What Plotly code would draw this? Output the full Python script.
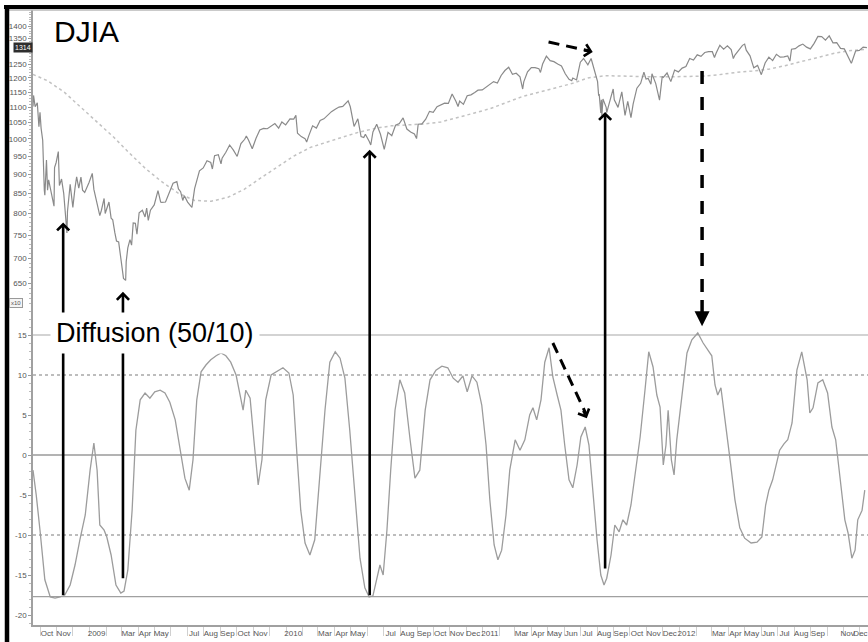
import math
import plotly.graph_objects as go

# ---------------- data (DJIA shown /10, as in the "x10" scale) ----------------
djia_dates = [
 "2008-09-18","2008-09-19","2008-09-22","2008-09-26","2008-09-29","2008-10-01","2008-10-03","2008-10-06",
 "2008-10-09","2008-10-10","2008-10-13","2008-10-15","2008-10-17","2008-10-22","2008-10-27","2008-10-28",
 "2008-10-31","2008-11-04","2008-11-06","2008-11-10","2008-11-14","2008-11-20","2008-11-21","2008-11-26",
 "2008-12-01","2008-12-05","2008-12-08","2008-12-12","2008-12-16","2008-12-19","2008-12-23","2008-12-31",
 "2009-01-06","2009-01-09","2009-01-15","2009-01-20","2009-01-23","2009-01-28","2009-01-30","2009-02-06",
 "2009-02-10","2009-02-13","2009-02-17","2009-02-20","2009-02-24","2009-02-27","2009-03-05","2009-03-09",
 "2009-03-10","2009-03-13","2009-03-17","2009-03-20","2009-03-23","2009-03-27","2009-03-30","2009-04-03",
 "2009-04-09","2009-04-14","2009-04-17","2009-04-20","2009-04-24","2009-05-01","2009-05-08","2009-05-13",
 "2009-05-15","2009-05-22","2009-05-29","2009-06-05","2009-06-12","2009-06-15","2009-06-19","2009-06-23",
 "2009-06-26","2009-07-02","2009-07-08","2009-07-10","2009-07-15","2009-07-17","2009-07-24","2009-07-31",
 "2009-08-07","2009-08-14","2009-08-17","2009-08-21","2009-08-28","2009-09-02","2009-09-04","2009-09-11",
 "2009-09-18","2009-09-25","2009-10-02","2009-10-09","2009-10-16","2009-10-19","2009-10-23","2009-10-30",
 "2009-11-06","2009-11-13","2009-11-20","2009-11-27","2009-12-04","2009-12-11","2009-12-18","2009-12-24",
 "2009-12-31","2010-01-08","2010-01-15","2010-01-19","2010-01-22","2010-01-29","2010-02-05","2010-02-08",
 "2010-02-12","2010-02-19","2010-02-26","2010-03-05","2010-03-12","2010-03-19","2010-03-26","2010-04-02",
 "2010-04-09","2010-04-16","2010-04-26","2010-04-30","2010-05-06","2010-05-07","2010-05-14","2010-05-20",
 "2010-05-25","2010-05-28","2010-06-04","2010-06-07","2010-06-11","2010-06-18","2010-06-25","2010-07-02",
 "2010-07-09","2010-07-16","2010-07-23","2010-07-30","2010-08-06","2010-08-13","2010-08-20","2010-08-27",
 "2010-08-31","2010-09-03","2010-09-10","2010-09-17","2010-09-24","2010-10-01","2010-10-08","2010-10-15",
 "2010-10-22","2010-10-29","2010-11-05","2010-11-12","2010-11-16","2010-11-19","2010-11-26","2010-12-03",
 "2010-12-10","2010-12-17","2010-12-23","2010-12-31","2011-01-07","2011-01-14","2011-01-21","2011-01-28",
 "2011-02-04","2011-02-11","2011-02-18","2011-02-25","2011-03-04","2011-03-11","2011-03-16","2011-03-18",
 "2011-03-25","2011-04-01","2011-04-08","2011-04-15","2011-04-18","2011-04-22","2011-04-29","2011-05-06",
 "2011-05-13","2011-05-20","2011-05-27","2011-06-03","2011-06-10","2011-06-15","2011-06-17","2011-06-24",
 "2011-07-01","2011-07-07","2011-07-15","2011-07-21","2011-07-29","2011-08-02","2011-08-04","2011-08-05",
 "2011-08-08","2011-08-09","2011-08-10","2011-08-12","2011-08-18","2011-08-19","2011-08-26","2011-08-31",
 "2011-09-02","2011-09-09","2011-09-16","2011-09-22","2011-09-27","2011-09-30","2011-10-03","2011-10-07",
 "2011-10-14","2011-10-21","2011-10-27","2011-10-31","2011-11-04","2011-11-09","2011-11-11","2011-11-18",
 "2011-11-25","2011-11-30","2011-12-02","2011-12-09","2011-12-16","2011-12-23","2011-12-30","2012-01-06",
 "2012-01-13","2012-01-20","2012-01-27","2012-02-03","2012-02-10","2012-02-17","2012-02-24","2012-03-02",
 "2012-03-06","2012-03-09","2012-03-16","2012-03-23","2012-03-30","2012-04-06","2012-04-10","2012-04-13",
 "2012-04-20","2012-04-27","2012-05-01","2012-05-04","2012-05-11","2012-05-18","2012-05-25","2012-06-01",
 "2012-06-08","2012-06-15","2012-06-22","2012-06-29","2012-07-06","2012-07-13","2012-07-20","2012-07-24",
 "2012-07-27","2012-08-03","2012-08-10","2012-08-17","2012-08-24","2012-08-31","2012-09-07","2012-09-14",
 "2012-09-21","2012-09-28","2012-10-05","2012-10-12","2012-10-19","2012-10-26","2012-11-02","2012-11-09",
 "2012-11-15","2012-11-16","2012-11-23","2012-11-30","2012-12-07","2012-12-14"]
djia_vals = [
 1102,1139,1101,1114,1037,1083,1033,996, 858,845,939,858,885,852,818,918,
 932,963,870,887,850,755,805,873, 815,864,893,863,892,858,852,878,
 902,860,821,795,808,837,800,828, 789,785,755,737,735,706,659,655,
 693,722,740,728,778,777,752,802, 808,792,813,784,808,821,857,828,
 827,828,850,876,880,861,854,832, 844,828,818,815,862,874,909,917,
 937,932,914,951,954,928,944,961, 982,967,949,986,999,1009,997,971,
 1002,1027,1032,1031,1039,1047,1033,1052, 1043,1062,1061,1073,1017,1007,1001,991,
 1010,1040,1033,1057,1062,1074,1085,1093, 1100,1102,1121,1101,1052,1038,1062,1007,
 1004,1014,993,982,1021,1045,1014,969, 1020,1010,1042,1047,1065,1030,1021,1015,
 1001,1045,1046,1061,1086,1083,1101,1106, 1113,1112,1144,1119,1102,1120,1109,1138,
 1141,1149,1157,1158,1167,1179,1187,1182, 1209,1227,1239,1213,1217,1204,1161,1186,
 1222,1238,1238,1234,1220,1251,1281,1264, 1260,1251,1244,1215,1195,1190,1200,1193,
 1258,1272,1248,1272,1214,1187,1138,1144, 1081,1124,1072,1127,1099,1082,1128,1161,
 1124,1099,1151,1073,1119,1091,1066,1110, 1164,1181,1221,1196,1198,1178,1215,1180,
 1123,1205,1202,1218,1187,1229,1222,1236, 1242,1272,1266,1286,1280,1295,1298,1298,
 1276,1292,1323,1308,1321,1306,1272,1285, 1303,1323,1328,1304,1282,1237,1246,1212,
 1255,1277,1264,1288,1277,1278,1282,1262, 1308,1310,1321,1328,1316,1309,1331,1359,
 1358,1344,1361,1333,1334,1311,1309,1282, 1254,1259,1301,1303,1316,1314]

ma_dates = [
 "2008-09-18","2008-10-15","2008-11-15","2008-12-15","2009-01-15","2009-02-15","2009-03-15","2009-04-15",
 "2009-05-15","2009-06-15","2009-07-15","2009-08-15","2009-09-15","2009-10-15","2009-11-15","2009-12-15",
 "2010-01-15","2010-02-15","2010-03-15","2010-04-15","2010-05-15","2010-06-15","2010-07-15","2010-08-15",
 "2010-09-15","2010-10-15","2010-11-15","2010-12-15","2011-01-15","2011-02-15","2011-03-15","2011-04-15",
 "2011-05-15","2011-06-15","2011-07-15","2011-08-15","2011-09-15","2011-10-15","2011-11-15","2011-12-15",
 "2012-01-15","2012-02-15","2012-03-15","2012-04-15","2012-05-15","2012-06-15","2012-07-15","2012-08-15",
 "2012-09-15","2012-10-15","2012-11-15","2012-12-14"]
ma_vals = [
 1213,1190,1150,1100,1050,1005,960,915, 880,850,832,830,840,860,890,920,
 950,975,990,1005,1020,1032,1040,1043, 1046,1052,1065,1080,1095,1115,1135,1150,
 1165,1180,1200,1208,1207,1205,1204,1204, 1205,1207,1212,1220,1225,1232,1245,1260,
 1275,1292,1303,1308]

diff_dates = [
 "2008-09-18","2008-09-24","2008-10-01","2008-10-10","2008-10-20","2008-10-29","2008-11-07","2008-11-16",
 "2008-11-26","2008-12-05","2008-12-14","2008-12-24","2009-01-02","2009-01-09","2009-01-15","2009-01-20",
 "2009-01-28","2009-02-02","2009-02-10","2009-02-19","2009-02-28","2009-03-06","2009-03-13","2009-03-21",
 "2009-03-28","2009-04-05","2009-04-14","2009-04-23","2009-05-02","2009-05-12","2009-05-21","2009-05-30",
 "2009-06-09","2009-06-18","2009-06-27","2009-07-05","2009-07-12","2009-07-19","2009-07-27","2009-08-05",
 "2009-08-14","2009-08-24","2009-09-02","2009-09-11","2009-09-20","2009-09-30","2009-10-07","2009-10-13",
 "2009-10-18","2009-10-26","2009-11-02","2009-11-10","2009-11-17","2009-11-24","2009-12-04","2009-12-15",
 "2009-12-26","2010-01-06","2010-01-14","2010-01-21","2010-01-28","2010-02-05","2010-02-14","2010-02-23",
 "2010-03-05","2010-03-14","2010-03-23","2010-04-02","2010-04-11","2010-04-20","2010-04-29","2010-05-09",
 "2010-05-18","2010-05-27","2010-06-04","2010-06-11","2010-06-18","2010-06-24","2010-06-30","2010-07-07",
 "2010-07-14","2010-07-22","2010-07-31","2010-08-09","2010-08-19","2010-08-28","2010-09-06","2010-09-16",
 "2010-09-25","2010-10-06","2010-10-17","2010-10-28","2010-11-07","2010-11-16","2010-11-25","2010-12-03",
 "2010-12-12","2010-12-21","2010-12-30","2011-01-07","2011-01-14","2011-01-22","2011-01-29","2011-02-05",
 "2011-02-13","2011-02-20","2011-03-02","2011-03-11","2011-03-20","2011-03-29","2011-04-04","2011-04-11",
 "2011-04-19","2011-04-26","2011-05-04","2011-05-11","2011-05-19","2011-05-26","2011-06-02","2011-06-10",
 "2011-06-17","2011-06-25","2011-07-02","2011-07-10","2011-07-17","2011-07-24","2011-08-01","2011-08-08",
 "2011-08-14","2011-08-19","2011-08-27","2011-09-03","2011-09-11","2011-09-18","2011-09-25","2011-10-03",
 "2011-10-10","2011-10-20","2011-10-29","2011-11-05","2011-11-13","2011-11-20","2011-11-26","2011-12-02",
 "2011-12-07","2011-12-11","2011-12-17","2011-12-22","2011-12-27","2012-01-06","2012-01-15","2012-01-24",
 "2012-02-04","2012-02-14","2012-02-23","2012-03-01","2012-03-07","2012-03-12","2012-03-18","2012-03-25",
 "2012-04-04","2012-04-13","2012-04-22","2012-05-01","2012-05-13","2012-05-24","2012-06-02","2012-06-09",
 "2012-06-15","2012-06-22","2012-06-30","2012-07-05","2012-07-13","2012-07-20","2012-07-28","2012-08-06",
 "2012-08-15","2012-08-25","2012-08-30","2012-09-05","2012-09-14","2012-09-23","2012-10-02","2012-10-10",
 "2012-10-17","2012-10-25","2012-11-03","2012-11-09","2012-11-16","2012-11-22","2012-11-27","2012-12-05",
 "2012-12-10"]
diff_vals = [
 -1.9,-5.0,-9.4,-15.6,-17.75,-17.9,-17.75,-17.5, -16.25,-13.75,-10.6,-7.5,-1.9,1.5,-1.9,-8.75,
 -9.4,-10.25,-12.5,-16.25,-17.25,-17.0,-14.4,-6.9, 3.1,6.9,7.75,7.1,7.9,8.1,7.75,6.6,
 4.4,0.6,-2.9,-4.4,-0.6,6.9,10.4,11.25, 11.9,12.4,12.75,12.4,11.6,10.0,7.5,5.6,
 8.1,7.1,1.9,-3.75,-0.6,6.9,10.0,10.4, 10.9,10.25,7.5,0.0,-6.9,-11.0,-12.5,-10.6,
 -1.9,5.6,11.6,12.9,12.1,9.6,3.1,-5.6, -12.9,-16.6,-17.75,-17.6,-15.6,-13.75,-15.0,-9.4,
 -1.9,5.6,9.4,7.75,1.9,-2.9,-1.9,5.6, 9.4,10.6,11.1,10.9,9.6,9.1,9.9,7.9,
 9.9,9.1,6.25,1.25,-5.6,-11.25,-13.1,-11.9, -7.5,-1.9,1.9,0.6,1.9,5.0,5.9,4.4,
 6.9,11.6,13.4,9.75,7.5,5.6,1.25,-3.1, -4.1,-1.25,2.25,3.5,1.25,-4.4,-10.6,-15.0,
 -16.25,-15.4,-12.5,-8.75,-9.6,-8.1,-8.75,-6.25, -2.5,2.25,8.1,12.9,11.0,7.5,6.0,-1.25,
 1.25,5.6,-0.6,-2.5,1.9,7.5,12.75,14.4, 15.25,14.0,13.1,12.4,8.75,7.5,8.4,4.4,
 -0.6,-5.6,-9.1,-10.4,-11.0,-10.9,-10.25,-6.25, -4.4,-3.1,-0.9,0.6,1.4,1.9,4.0,10.6,
 12.9,9.4,5.25,5.9,9.0,9.4,7.75,3.5, 1.9,-3.1,-8.1,-9.75,-12.9,-11.9,-8.1,-6.9,
 -4.4]

# axis tick labels
x_tick_dates = [
 "2008-10-14","2008-11-14","2009-01-14","2009-03-14","2009-04-14","2009-05-14","2009-07-14","2009-08-14",
 "2009-09-14","2009-10-14","2009-11-14","2010-01-14","2010-03-14","2010-04-14","2010-05-14","2010-07-14",
 "2010-08-14","2010-09-14","2010-10-14","2010-11-14","2010-12-14","2011-01-14","2011-03-14","2011-04-14",
 "2011-05-14","2011-06-14","2011-07-14","2011-08-14","2011-09-14","2011-10-14","2011-11-14","2011-12-14",
 "2012-01-14","2012-03-14","2012-04-14","2012-05-14","2012-06-14","2012-07-14","2012-08-14","2012-09-14",
 "2012-11-08","2012-12-02"]
x_tick_text = [
 "Oct","Nov","2009","Mar","Apr","May","Jul","Aug","Sep","Oct","Nov","2010","Mar","Apr","May","Jul",
 "Aug","Sep","Oct","Nov","Dec","2011","Mar","Apr","May","Jun","Jul","Aug","Sep","Oct","Nov","Dec",
 "2012","Mar","Apr","May","Jun","Jul","Aug","Sep","Nov","Dec"]
price_ticks = list(range(650, 1401, 50))
price_tick_text = ["" if v == 1300 else str(v) for v in price_ticks]   # 1300 sits under the value tag
price_minor = list(range(620, 1470, 10))
diff_ticks = [-20, -15, -10, -5, 0, 5, 10, 15]
ref_levels = [15, 10, 0, -10, -17.7]
ref_styles = ["solid", "dot", "solid", "dot", "solid"]
ref_colors = ["#c4c4c4", "#a8a8a8", "#9a9a9a", "#a8a8a8", "#a0a0a0"]

# ---------------- figure ----------------
W, H = 868, 642
L, R, T, B = 33, 0, 10, 17
pw, ph = W - L - R, H - T - B
split = (H - B - 300) / ph          # panels meet at y = 300 px
tickfont = dict(family="Liberation Sans Narrow, Liberation Sans, Arial", size=8, color="#555")

fig = go.Figure()
fig.add_trace(go.Scatter(x=ma_dates, y=ma_vals, mode="lines", yaxis="y",
                         line=dict(color="#c2c2c2", width=1.5, dash="dot"), hoverinfo="skip"))
fig.add_trace(go.Scatter(x=djia_dates, y=djia_vals, mode="lines", yaxis="y",
                         line=dict(color="#8a8a8a", width=1.2), name="DJIA"))
fig.add_trace(go.Scatter(x=diff_dates, y=diff_vals, mode="lines", yaxis="y2",
                         line=dict(color="#9c9c9c", width=1.3), name="Diffusion"))

shapes = []
for lvl, st, col in zip(ref_levels, ref_styles, ref_colors):
    shapes.append(dict(type="line", xref="paper", x0=0, x1=1, yref="y2", y0=lvl, y1=lvl,
                       line=dict(color=col, width=1.4, dash=st), layer="below"))

# black frame (top and left) of the clipped screenshot
def px_x(p): return (p - L) / pw
def px_y(p): return (H - B - p) / ph
shapes.append(dict(type="line", xref="paper", yref="paper", x0=px_x(4), x1=px_x(870),
                   y0=px_y(7), y1=px_y(7), line=dict(color="black", width=4)))
shapes.append(dict(type="line", xref="paper", yref="paper", x0=px_x(9), x1=px_x(870),
                   y0=px_y(10), y1=px_y(10), line=dict(color="#b8b8b8", width=1.5)))
shapes.append(dict(type="line", xref="paper", yref="paper", x0=px_x(7), x1=px_x(7),
                   y0=px_y(5), y1=px_y(645), line=dict(color="black", width=4.5)))

# dashed arrow shafts
dash_a = "11px,7px"
shapes.append(dict(type="line", xref="x", yref="y", x0="2011-05-03", y0=1336, x1="2011-07-20", y1=1300,
                   line=dict(color="black", width=3, dash=dash_a)))
shapes.append(dict(type="line", xref="x", yref="y", x0="2012-02-12", y0=1225, x1="2012-02-12", y1=617.9,
                   line=dict(color="black", width=3.5, dash="13px,13px")))
shapes.append(dict(type="line", xref="x", yref="y2", x0="2012-02-12", y0=19.375, x1="2012-02-12", y1=17.5,
                   line=dict(color="black", width=3.5)))
shapes.append(dict(type="line", xref="x", yref="y2", x0="2011-05-11", y0=14.0, x1="2011-07-11", y1=5.2,
                   line=dict(color="black", width=3, dash=dash_a)))

annotations = []
# solid arrows from the diffusion lows to the price lows: (date, head value, tail offset px)
solid_arrows = [("2008-11-13", 779, 374), ("2009-03-04", 633, 288),
                ("2010-06-05", 968, 447), ("2011-08-16", 1084, 458)]
for d, v, off in solid_arrows:
    annotations.append(dict(x=d, y=math.log10(v), xref="x", yref="y", text="", showarrow=True,
                            ax=0, ay=off, axref="pixel", ayref="pixel", arrowhead=4, arrowsize=0.9,
                            arrowwidth=2.6, arrowcolor="black", standoff=0))
# heads of dashed arrows
annotations.append(dict(x="2011-07-24", y=math.log10(1297), xref="x", yref="y", text="", showarrow=True,
                        ax=-10, ay=-2.2, arrowhead=4, arrowsize=0.9, arrowwidth=2.6, arrowcolor="black"))
annotations.append(dict(x="2012-02-12", y=16.1, xref="x", yref="y2", text="", showarrow=True,
                        ax=0, ay=-12, arrowhead=2, arrowsize=1.0, arrowwidth=3, arrowcolor="black"))
annotations.append(dict(x="2011-07-13", y=4.6, xref="x", yref="y2", text="", showarrow=True,
                        ax=-4.1, ay=-9.1, arrowhead=4, arrowsize=0.9, arrowwidth=2.6, arrowcolor="black"))
# labels
annotations.append(dict(x=px_x(52), y=px_y(31), xref="paper", yref="paper", xanchor="left", yanchor="middle",
                        text="DJIA", showarrow=False,
                        font=dict(family="Liberation Sans, Arial", size=30, color="black")))
annotations.append(dict(x=px_x(155), y=px_y(333), xref="paper", yref="paper", xanchor="center", yanchor="middle",
                        text="Diffusion (50/10)", showarrow=False, bgcolor="white", borderpad=5,
                        font=dict(family="Liberation Sans, Arial", size=27, color="black")))
annotations.append(dict(x=0, y=math.log10(djia_vals[-1]), xref="paper", yref="y", xanchor="right",
                        yanchor="middle", text=f"{djia_vals[-1]:.0f}", showarrow=False,
                        bgcolor="#2e2e2e", borderpad=1,
                        font=dict(family="Liberation Sans Narrow, Liberation Sans", size=7, color="white")))
annotations.append(dict(x=px_x(23), y=19.0, xref="paper", yref="y2", xanchor="right", yanchor="middle",
                        text="x10", showarrow=False, bordercolor="#999", borderwidth=1, borderpad=1,
                        bgcolor="#f4f4f4",
                        font=dict(family="Liberation Sans Narrow, Liberation Sans", size=6, color="#555")))

fig.update_layout(
    width=W, height=H, margin=dict(l=L, r=R, t=T, b=B, autoexpand=False),
    paper_bgcolor="white", plot_bgcolor="white", showlegend=False,
    xaxis=dict(type="date", range=["2008-09-18", "2012-12-16"], anchor="y2",
               tickmode="array", tickvals=x_tick_dates, ticktext=x_tick_text, ticks="",
               tickangle=0, automargin=False, ticklabeloverflow="allow",
               showgrid=False, zeroline=False, showline=True, linecolor="#a0a0a0", linewidth=1.5,
               tickfont=tickfont,
               minor=dict(dtick="M1", tick0="2008-10-01", ticks="outside", ticklen=9,
                          tickcolor="#d0d0d0", showgrid=False)),
    yaxis=dict(type="log", domain=[split, 1], range=[2.79083, 3.16746], anchor="x",
               tickmode="array", tickvals=price_ticks, ticktext=price_tick_text, automargin=False,
               ticks="outside", ticklen=3, tickcolor="#999", showgrid=False, zeroline=False,
               showline=True, linecolor="#a0a0a0", linewidth=1.5, tickfont=tickfont,
               minor=dict(tickmode="array", tickvals=price_minor, ticks="outside", ticklen=2,
                          tickcolor="#bbb")),
    yaxis2=dict(domain=[0, split], range=[-21.25, 19.375], anchor="x", automargin=False,
                tickmode="array", tickvals=diff_ticks, ticktext=[str(v) for v in diff_ticks],
                ticks="outside", ticklen=3, tickcolor="#999", showgrid=False, zeroline=False,
                showline=True, linecolor="#a0a0a0", linewidth=1.5, tickfont=tickfont,
                minor=dict(dtick=1, ticks="outside", ticklen=2, tickcolor="#bbb")),
    shapes=shapes, annotations=annotations,
)

fig.write_html("out.html", config={"displayModeBar": False},
               post_script="document.body.style.margin='0';document.body.style.overflow='hidden';")
